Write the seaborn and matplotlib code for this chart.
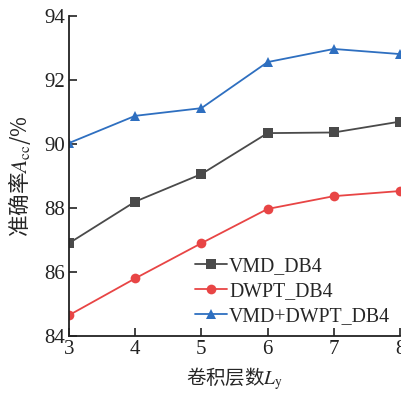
import pandas as pd
import numpy as np
import seaborn as sns
import matplotlib.pyplot as plt

sns.set_theme(style="ticks")
plt.rcParams['font.family'] = ['Liberation Serif', 'Noto Sans CJK SC']
plt.rcParams['mathtext.fontset'] = 'stix'

# Data
layers = [3, 4, 5, 6, 7, 8]
vmd_db4 = [86.9, 88.2, 89.06, 90.34, 90.36, 90.7]
dwpt_db4 = [84.65, 85.8, 86.9, 87.97, 88.37, 88.53]
vmd_dwpt_db4 = [90.03, 90.88, 91.12, 92.56, 92.97, 92.81]
series_names = ["VMD_DB4", "DWPT_DB4", "VMD+DWPT_DB4"]

df = pd.concat([
    pd.DataFrame({"layers": layers, "acc": vals, "model": name})
    for name, vals in zip(series_names, [vmd_db4, dwpt_db4, vmd_dwpt_db4])
])

palette = {"VMD_DB4": "#4a4a4a", "DWPT_DB4": "#e84545", "VMD+DWPT_DB4": "#2e6fc0"}
markers = {"VMD_DB4": "s", "DWPT_DB4": "o", "VMD+DWPT_DB4": "^"}

fig = plt.figure(figsize=(4.02, 3.95), dpi=100)
ax = fig.add_axes([69 / 402, 1 - 336 / 395, 331 / 402, 320 / 395])

sns.lineplot(data=df, x="layers", y="acc", hue="model", style="model",
             palette=palette, markers=markers, dashes=False, linewidth=1.3,
             markersize=7, markeredgewidth=0, ax=ax)

ax.set_xlim(3, 8)
ax.set_ylim(84, 94)
ax.set_xticks(layers)
ax.set_yticks([84, 86, 88, 90, 92, 94])
ax.tick_params(direction="in", length=6, width=1.2, labelsize=15, colors="#222222", pad=3)
for s in ["top", "right"]:
    ax.spines[s].set_visible(False)
for s in ["left", "bottom"]:
    ax.spines[s].set_linewidth(1.3)
    ax.spines[s].set_color("#222222")

ax.set_xlabel(r"卷积层数$L_{\rm y}$", fontsize=14, family=['Noto Sans CJK SC'], labelpad=4)
ax.set_ylabel(r"准确率$A_{\rm cc}$/%", fontsize=15.5, family=['Noto Sans CJK SC'], labelpad=8)

leg = ax.legend(loc="lower right", bbox_to_anchor=(1.0, 0.0), frameon=False, fontsize=14.3,
                handlelength=1.6, handletextpad=0.1, labelspacing=0.3, borderaxespad=0.1)

fig.savefig("out.png", dpi=100)
